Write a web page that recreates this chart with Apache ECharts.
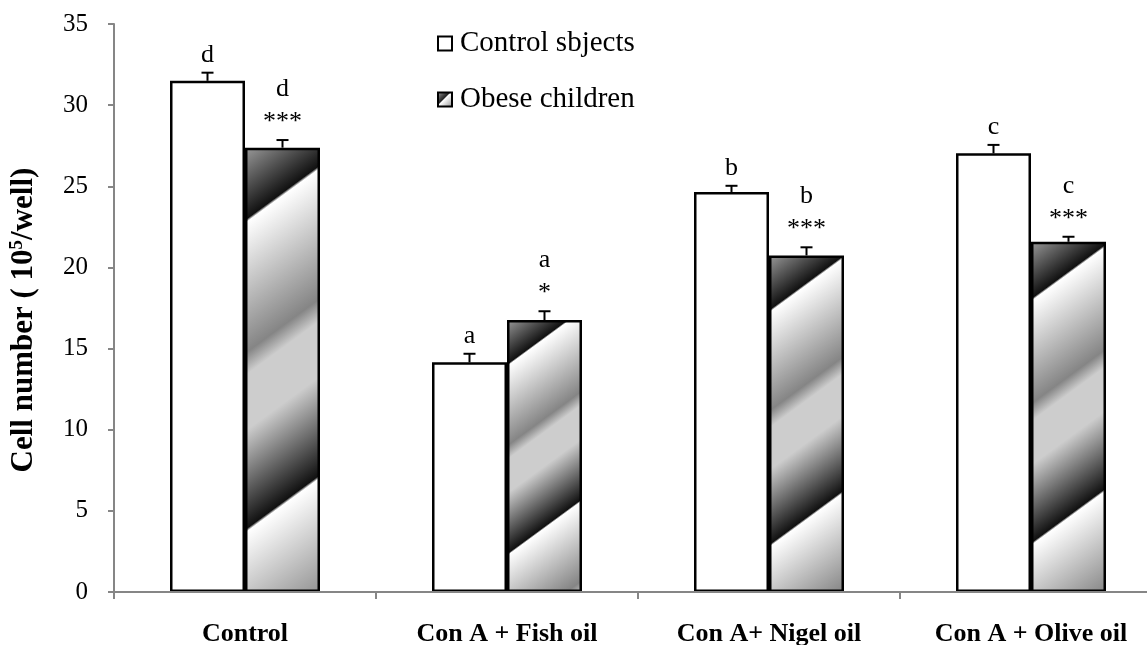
<!DOCTYPE html>
<html>
<head>
<meta charset="utf-8">
<script src="https://cdn.jsdelivr.net/npm/echarts@6/dist/echarts.min.js"></script>
<style>
html,body{margin:0;padding:0;background:#fff;}
#chart{width:1147px;height:645px;}
</style>
</head>
<body>
<div id="chart"></div>
<script>
// ---- data ----
const categories = ['Control', 'Con A + Fish oil', 'Con A+ Nigel oil', 'Con A + Olive oil'];
const seriesNames = ['Control sbjects', 'Obese children'];
const controlSubjects = [31.5, 14.15, 24.65, 27.03];
const obeseChildren = [27.38, 16.76, 20.74, 21.58];
const controlErrTop = [32.0, 14.68, 25.03, 27.55];
const obeseErrTop = [27.85, 17.3, 21.24, 21.89];
const controlLetters = ['d', 'a', 'b', 'c'];
const obeseLetters = ['d', 'a', 'b', 'c'];
const controlStars = ['', '', '', ''];
const obeseStars = ['***', '*', '***', '***'];
const yMin = 0, yMax = 35, yInterval = 5;

// ---- layout / style ----
const W = 1147, H = 645;
const GRID = { left: 114, right: -15, top: 24, bottom: 53 };
const BAR_W = 75;
const pxPerUnit = (H - GRID.top - GRID.bottom) / (yMax - yMin);
const SERIF = 'Liberation Serif';

// diagonal repeating gradient, defined along the left-edge-equivalent vertical position p (fraction of bar height)
const PERIOD = 0.697, FIRST_BLACK = 0.163;
const pattern = [[0, '#111111'], [0.007, '#ffffff'], [0.30, '#858585'], [0.35, '#cdcdcd'], [0.475, '#cdcdcd']];
function diagFill(value) {
  const h = Math.max(1, value * pxPerUnit);
  const len = Math.sqrt(55 * 55 + 75 * 75);
  const ux = 55 / len, uy = 75 / len;
  const p0 = FIRST_BLACK - PERIOD - (PERIOD - 0.475);
  const p1 = FIRST_BLACK + 2 * PERIOD;
  const stops = [{ p: p0, c: '#cdcdcd' }];
  for (let k = -1; k <= 1; k++) {
    const b = FIRST_BLACK + k * PERIOD;
    pattern.forEach(([d, c]) => stops.push({ p: b + d, c }));
  }
  stops.push({ p: p1, c: '#111111' });
  const t0 = uy * p0 * h, t1 = uy * p1 * h;
  return new echarts.graphic.LinearGradient(
    ux * t0 / BAR_W, uy * t0 / h, ux * t1 / BAR_W, uy * t1 / h,
    stops.map(s => ({ offset: (s.p - p0) / (p1 - p0), color: s.c }))
  );
}

const chart = echarts.init(document.getElementById('chart'), null, { renderer: 'canvas' });

function errSeries(name, errTop, vals, letters, stars, offset) {
  return {
    name: name + ' err',
    type: 'custom',
    coordinateSystem: 'cartesian2d',
    silent: true,
    z: 5,
    data: errTop.map((e, i) => [i, e, vals[i]]),
    encode: { x: 0, y: 1 },
    renderItem: function (params, api) {
      const i = params.dataIndex;
      const top = api.coord([api.value(0), api.value(1)]);
      const base = api.coord([api.value(0), api.value(2)]);
      const x = top[0] + offset;
      const capY = top[1];
      const children = [
        { type: 'line', shape: { x1: x, y1: base[1], x2: x, y2: capY }, style: { stroke: '#000', lineWidth: 2 } },
        { type: 'line', shape: { x1: x - 6, y1: capY, x2: x + 6, y2: capY }, style: { stroke: '#000', lineWidth: 2 } }
      ];
      const st = stars[i];
      const letterY = st ? capY - 51 : capY - 18;
      if (st) {
        children.push({ type: 'text', style: { text: st, x: x, y: capY - 18, align: 'center', verticalAlign: 'middle', fontSize: 26, fontFamily: SERIF, fill: '#000' } });
      }
      children.push({ type: 'text', style: { text: letters[i], x: x, y: letterY, align: 'center', verticalAlign: 'middle', fontSize: 26, fontFamily: SERIF, fill: '#000' } });
      return { type: 'group', children: children };
    }
  };
}

const option = {
  backgroundColor: '#ffffff',
  animation: false,
  grid: Object.assign({ outerBoundsMode: 'none', containLabel: false }, GRID),
  legend: {
    orient: 'vertical',
    left: 432,
    top: 24,
    itemWidth: 14,
    itemHeight: 14,
    itemGap: 27,
    icon: 'rect',
    data: seriesNames,
    textStyle: { fontFamily: SERIF, fontSize: 29, color: '#000', lineHeight: 28, padding: [0, 0, 0, 3] }
  },
  xAxis: {
    type: 'category',
    data: categories,
    z: 10,
    boundaryGap: true,
    axisLine: { lineStyle: { color: '#868686', width: 2 } },
    axisTick: { show: true, length: 7, lineStyle: { color: '#868686', width: 2 } },
    axisLabel: { margin: 29, fontFamily: SERIF, fontWeight: 'bold', fontSize: 26, color: '#000', interval: 0 }
  },
  yAxis: {
    type: 'value',
    min: yMin, max: yMax, interval: yInterval,
    splitLine: { show: false },
    axisLine: { show: true, lineStyle: { color: '#868686', width: 2 } },
    axisTick: { show: true, length: 6, lineStyle: { color: '#868686', width: 2 } },
    axisLabel: { margin: 26, fontFamily: SERIF, fontSize: 25, color: '#000' },
    name: 'Cell number ( 10{sup|5}/well)',
    nameLocation: 'middle',
    nameGap: 75,
    nameRotate: 90,
    nameTextStyle: {
      fontFamily: SERIF, fontWeight: 'bold', fontSize: 31, color: '#000',
      padding: [0, 24, 0, 0],
      rich: { sup: { fontFamily: SERIF, fontWeight: 'bold', fontSize: 19, verticalAlign: 'top', color: '#000' } }
    }
  },
  series: [
    {
      name: seriesNames[0],
      type: 'bar',
      barWidth: BAR_W,
      barGap: '0%',
      itemStyle: { color: '#ffffff', borderColor: '#000', borderWidth: 2.5 },
      data: controlSubjects.map(v => ({ value: v }))
    },
    {
      name: seriesNames[1],
      type: 'bar',
      barWidth: BAR_W,
      barGap: '0%',
      itemStyle: {
        color: new echarts.graphic.LinearGradient(0, 0, 1, 1, [
          { offset: 0, color: '#b0b0b0' }, { offset: 0.42, color: '#222' },
          { offset: 0.48, color: '#fff' }, { offset: 1, color: '#888' }
        ]),
        borderColor: '#000', borderWidth: 2.5
      },
      data: obeseChildren.map(v => ({ value: v, itemStyle: { color: diagFill(v) } }))
    },
    errSeries('c', controlErrTop, controlSubjects, controlLetters, controlStars, -BAR_W / 2),
    errSeries('o', obeseErrTop, obeseChildren, obeseLetters, obeseStars, BAR_W / 2)
  ]
};
chart.setOption(option);
</script>
</body>
</html>
